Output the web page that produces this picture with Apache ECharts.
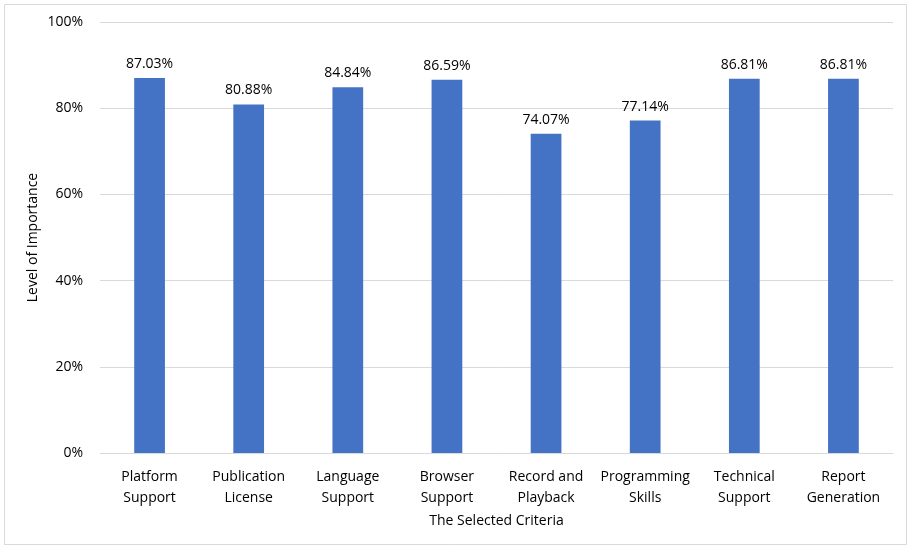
<!DOCTYPE html>
<html>
<head>
<meta charset="utf-8">
<script src="https://cdn.jsdelivr.net/npm/echarts@6/dist/echarts.min.js"></script>
<style>
  html, body { margin: 0; padding: 0; background: #fff; }
  #chart { width: 911px; height: 547px; }
</style>
</head>
<body>
<div id="chart"></div>
<script>
// criteria on the x axis
var categories = [
    'Platform\nSupport', 'Publication\nLicense', 'Language\nSupport', 'Browser\nSupport',
    'Record and\nPlayback', 'Programming\nSkills', 'Technical\nSupport', 'Report\nGeneration'
];
// level of importance, in percent
var importance = [87.03, 80.88, 84.84, 86.59, 74.07, 77.14, 86.81, 86.81];
var yTicks = [0, 20, 40, 60, 80, 100];

var font = '"Open Sans", sans-serif';
var chart = echarts.init(document.getElementById('chart'));

var option = {
    backgroundColor: '#fff',
    animation: false,
    textStyle: { fontFamily: font },
    graphic: [{
        type: 'rect',
        shape: { x: 4.5, y: 4.5, width: 902, height: 540 },
        style: { fill: 'none', stroke: '#d9d9d9', lineWidth: 1 },
        silent: true
    }],
    grid: { left: 100, right: 18, top: 22, bottom: 94 },
    xAxis: {
        type: 'category',
        data: categories,
        name: 'The Selected Criteria',
        nameLocation: 'middle',
        nameGap: 61,
        nameTextStyle: { fontSize: 14, color: '#000', fontFamily: font },
        axisLine: { lineStyle: { color: '#d9d9d9' } },
        axisTick: { show: false },
        axisLabel: { fontSize: 14, color: '#000', lineHeight: 21, margin: 14, interval: 0, fontFamily: font }
    },
    yAxis: {
        type: 'value',
        min: yTicks[0],
        max: yTicks[yTicks.length - 1],
        interval: 20,
        name: 'Level of Importance',
        nameLocation: 'middle',
        nameGap: 60,
        nameMoveOverlap: false,
        nameRotate: 90,
        nameTextStyle: { fontSize: 14, color: '#000', fontFamily: font },
        axisLine: { show: false },
        axisTick: { show: false },
        axisLabel: { fontSize: 14, color: '#000', margin: 17, formatter: '{value}%', fontFamily: font },
        splitLine: { lineStyle: { color: '#d9d9d9' } }
    },
    series: [{
        type: 'bar',
        data: importance,
        barWidth: '31%',
        itemStyle: { color: '#4472c4' },
        label: {
            show: true,
            position: 'top',
            distance: 7,
            fontSize: 14,
            color: '#000',
            fontFamily: font,
            formatter: function (p) { return p.value.toFixed(2) + '%'; }
        }
    }]
};

chart.setOption(option);
</script>
</body>
</html>
